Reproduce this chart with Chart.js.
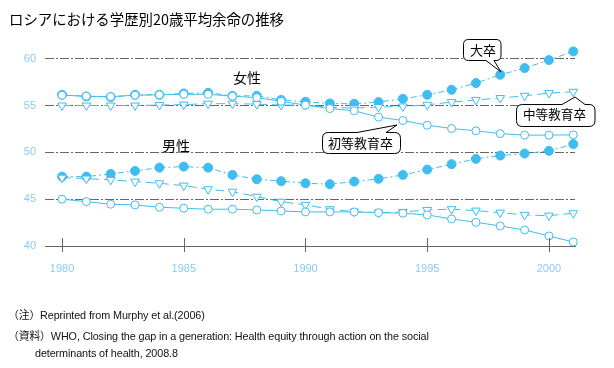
<!DOCTYPE html>
<html><head><meta charset="utf-8">
<script src="https://cdn.jsdelivr.net/npm/chart.js@4/dist/chart.umd.min.js"></script>
<style>
html,body{margin:0;padding:0;background:#fff;}
#wrap{position:relative;width:614px;height:368px;overflow:hidden;font-family:"Noto Sans CJK JP",sans-serif;}
#c{position:absolute;left:0;top:0;}
#ov{position:absolute;left:0;top:0;}
.t{position:absolute;white-space:nowrap;color:#000;line-height:1;}
.fn{font-family:"Liberation Sans","Noto Sans CJK JP",sans-serif;font-size:10.8px;color:#111;letter-spacing:-0.1px;}
.fn .j{font-family:"Noto Sans CJK JP";}
</style></head><body>
<div id="wrap">
<canvas id="c" width="614" height="368" style="width:614px;height:368px"></canvas>
<svg id="ov" width="614" height="368"></svg>
<div class="t" id="title" style="left:9px;top:12px;font-size:14.4px;">ロシアにおける学歴別20歳平均余命の推移</div>
<div class="t" style="left:233px;top:70px;font-size:14px;">女性</div>
<div class="t" style="left:159px;top:138px;font-size:14px;background:#fff;padding:0 3px;">男性</div>
<div class="t" style="left:470px;top:43px;font-size:13px;">大卒</div>
<div class="t" style="left:523px;top:108px;font-size:12.6px;">中等教育卒</div>
<div class="t" style="left:328px;top:136px;font-size:13px;">初等教育卒</div>
<div class="t fn" style="left:8px;top:309px;"><span class="j">（注）</span>Reprinted from Murphy et al.(2006)</div>
<div class="t fn" style="left:8px;top:330px;"><span class="j">（資料）</span>WHO, Closing the gap in a generation: Health equity through action on the social</div>
<div class="t fn" style="left:35px;top:348px;">determinants of health, 2008.8</div>
</div>
<script>
// ---- data ----
const years = [1980,1981,1982,1983,1984,1985,1986,1987,1988,1989,1990,1991,1992,1993,1994,1995,1996,1997,1998,1999,2000,2001];
const femaleUniv = [56.15,55.97,55.9,56.15,56.15,56.29,56.36,56.04,56.04,55.6,55.4,55.22,55.19,55.37,55.72,56.15,56.68,57.4,58.29,59.0,59.86,60.78];
const femaleSec  = [55.0,55.0,55.0,55.0,55.05,55.1,55.2,55.2,55.15,55.05,55.05,54.8,54.73,54.84,54.9,55.08,55.37,55.6,55.8,56.04,56.33,56.47];
const femalePrim = [56.1,56.0,55.95,56.1,56.15,56.2,56.2,56.0,55.85,55.45,55.05,54.68,54.44,53.76,53.4,52.9,52.55,52.3,52.0,51.84,51.84,51.87];
const maleUniv = [47.41,47.41,47.7,48.02,48.37,48.48,48.37,47.59,47.13,46.92,46.7,46.6,46.88,47.17,47.59,48.16,48.74,49.3,49.66,49.87,50.16,50.88];
const maleSec  = [47.3,47.2,47.06,46.88,46.7,46.45,46.06,45.8,45.27,44.73,44.39,43.93,43.67,43.56,43.64,43.85,43.93,43.78,43.56,43.32,43.24,43.5];
const malePrim = [45.0,44.74,44.46,44.39,44.14,44.03,43.93,43.93,43.85,43.74,43.64,43.64,43.64,43.56,43.5,43.32,42.89,42.53,42.14,41.71,41.07,40.43];
const yTicks = [40,45,50,55,60];
const xTicks = [1980,1985,1990,1995,2000];

const C = '#3fbdf0';
function pts(arr){ return years.map((y,i)=>({x:y,y:arr[i]})); }
function ds(arr, kind){
  const base = {data:pts(arr), clip:false, borderColor:C, borderWidth:1, pointBorderColor:C, pointBorderWidth:1, fill:false, tension:0};
  if(kind==='univ') return Object.assign(base,{borderDash:[6,3,2,3], pointStyle:'circle', pointRadius:4.5, pointBackgroundColor:C});
  if(kind==='sec') return Object.assign(base,{borderDash:[9,5], pointStyle:'triangle', pointRotation:180, pointRadius:5, pointBackgroundColor:'#fff'});
  return Object.assign(base,{pointStyle:'circle', pointRadius:4, pointBackgroundColor:'#fff'});
}

const crossTicks = {
  id:'crossTicks',
  afterDraw(chart){
    const xs = chart.scales.x, b = chart.chartArea.bottom, ctx = chart.ctx;
    ctx.save(); ctx.strokeStyle='#666'; ctx.lineWidth=1; ctx.beginPath();
    xTicks.forEach(v=>{ const px = Math.round(xs.getPixelForValue(v))+0.5; ctx.moveTo(px,b-8); ctx.lineTo(px,b+6); });
    ctx.stroke(); ctx.restore();
  }
};

new Chart(document.getElementById('c'), {
  type:'line',
  data:{datasets:[ds(femalePrim,'prim'),ds(femaleSec,'sec'),ds(femaleUniv,'univ'),ds(malePrim,'prim'),ds(maleSec,'sec'),ds(maleUniv,'univ')]},
  options:{
    responsive:false, animation:false,
    layout:{padding:{left:0,right:39,top:40,bottom:0}},
    plugins:{legend:{display:false}, tooltip:{enabled:false}},
    scales:{
      x:{type:'linear', min:1979.3, max:2001.07,
        afterBuildTicks(s){ s.ticks = xTicks.map(v=>({value:v})); },
        afterFit(s){ s.height = 122; },
        grid:{display:false},
        border:{display:true,color:'#666',width:1},
        ticks:{color:'#8ccbf2', font:{family:'Liberation Sans', size:11}, padding:8, maxRotation:0, callback:v=>String(v)}
      },
      y:{min:40, max:62,
        afterBuildTicks(s){ s.ticks = yTicks.map(v=>({value:v})); },
        afterFit(s){ s.width = 45; },
        grid:{drawTicks:false, color:ctx=>ctx.tick && ctx.tick.value===40 ? 'rgba(0,0,0,0)' : '#666', lineWidth:1},
        border:{display:false, dash:[9,2,2,2]},
        ticks:{color:'#8ccbf2', font:{family:'Liberation Sans', size:11}, padding:9}
      }
    }
  },
  plugins:[crossTicks]
});

// callout shapes
function calloutBottom(x,y,w,h,r,b1,b2,tx,ty){
  return `M${x+r},${y} H${x+w-r} Q${x+w},${y} ${x+w},${y+r} V${y+h-r} Q${x+w},${y+h} ${x+w-r},${y+h} H${b2} L${tx},${ty} L${b1},${y+h} H${x+r} Q${x},${y+h} ${x},${y+h-r} V${y+r} Q${x},${y} ${x+r},${y} Z`;
}
function calloutTop(x,y,w,h,r,b1,b2,tx,ty){
  return `M${x+r},${y} H${b1} L${tx},${ty} L${b2},${y} H${x+w-r} Q${x+w},${y} ${x+w},${y+r} V${y+h-r} Q${x+w},${y+h} ${x+w-r},${y+h} H${x+r} Q${x},${y+h} ${x},${y+h-r} V${y+r} Q${x},${y} ${x+r},${y} Z`;
}
const svg = document.getElementById('ov');
[calloutBottom(463.5,39.5,37.5,21,5,486,494,501,72),
 calloutTop(516.5,104.5,78.5,22,6,562,585,575,97),
 calloutTop(322.5,132.5,78,21,6,357,386,397,125)].forEach(d=>{
  const p = document.createElementNS('http://www.w3.org/2000/svg','path');
  p.setAttribute('d',d); p.setAttribute('fill','#fff'); p.setAttribute('stroke','#000'); p.setAttribute('stroke-width','1');
  svg.appendChild(p);
});
</script>
</body></html>
